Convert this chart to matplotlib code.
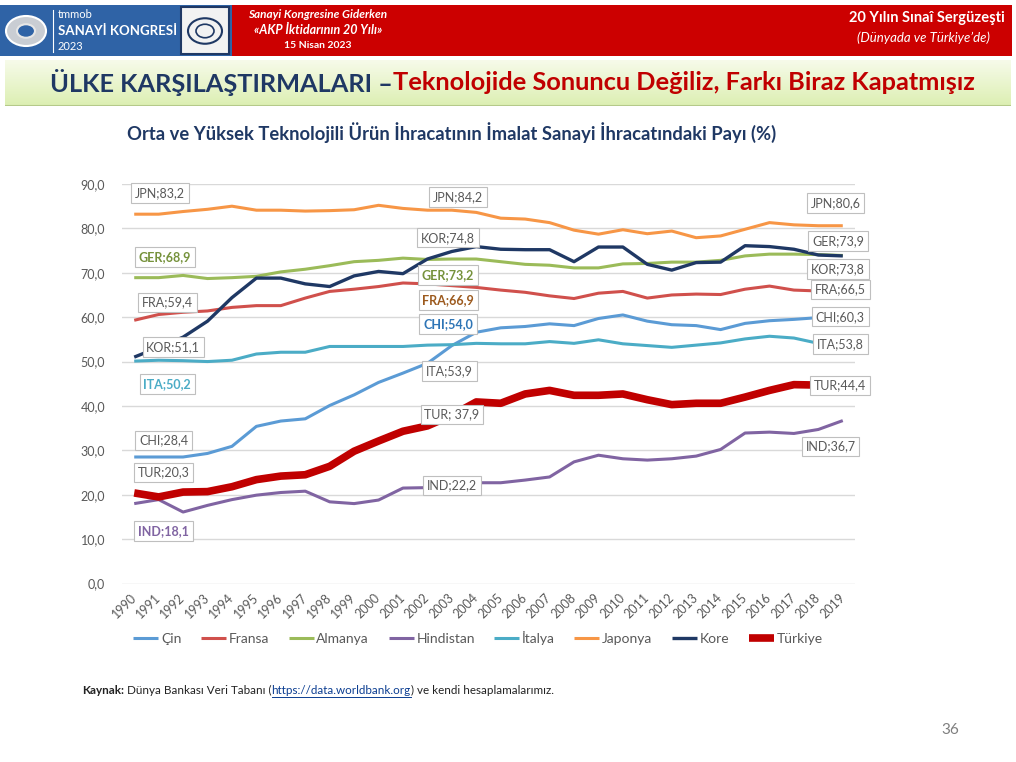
# orta ve yuksek teknolojili urun ihracati payi

import matplotlib.pyplot as plt
from matplotlib.patches import Rectangle, Circle
from matplotlib.lines import Line2D
from matplotlib.colors import LinearSegmentedColormap
import numpy as np

plt.rcParams['font.family'] = ['Lato', 'DejaVu Sans']

W, H = 1016, 762

years = [str(y) for y in range(1990, 2020)]

chn = [28.5, 28.5, 28.5, 29.3, 30.9, 35.4, 36.6, 37.1, 40.1, 42.5,
       45.3, 47.4, 49.6, 53.6, 56.6, 57.6, 57.9, 58.5, 58.1, 59.7,
       60.5, 59.1, 58.3, 58.1, 57.2, 58.6, 59.2, 59.5, 59.9, 60.3]
fra = [59.3, 60.6, 61.1, 61.4, 62.2, 62.6, 62.6, 64.3, 65.8, 66.3,
       66.9, 67.7, 67.5, 67.1, 66.7, 66.1, 65.6, 64.8, 64.2, 65.4,
       65.8, 64.3, 65.0, 65.2, 65.1, 66.3, 67.0, 66.1, 65.9, 66.0]
ger = [68.9, 68.9, 69.4, 68.7, 68.9, 69.2, 70.2, 70.8, 71.6, 72.5,
       72.8, 73.3, 73.0, 73.1, 73.1, 72.5, 71.9, 71.7, 71.1, 71.1,
       72.0, 72.1, 72.4, 72.4, 72.8, 73.8, 74.2, 74.2, 74.1, 73.9]
ind = [18.0, 18.9, 16.1, 17.6, 18.9, 19.9, 20.5, 20.8, 18.4, 18.0,
       18.8, 21.5, 21.6, 22.2, 22.7, 22.7, 23.3, 24.0, 27.4, 28.9,
       28.1, 27.8, 28.1, 28.7, 30.2, 33.9, 34.1, 33.8, 34.7, 36.7]
ita = [50.1, 50.3, 50.2, 50.0, 50.3, 51.7, 52.1, 52.1, 53.4, 53.4,
       53.4, 53.4, 53.7, 53.8, 54.1, 54.0, 54.0, 54.5, 54.1, 54.9,
       54.0, 53.6, 53.2, 53.7, 54.2, 55.1, 55.7, 55.3, 54.1, 53.8]
jpn = [83.2, 83.2, 83.8, 84.3, 85.0, 84.1, 84.1, 83.9, 84.0, 84.2,
       85.2, 84.5, 84.1, 84.1, 83.6, 82.3, 82.1, 81.3, 79.6, 78.7,
       79.7, 78.8, 79.4, 77.9, 78.3, 79.8, 81.3, 80.8, 80.6, 80.6]
kor = [51.0, 53.2, 55.5, 59.1, 64.4, 68.8, 68.8, 67.5, 66.9, 69.3,
       70.3, 69.8, 73.1, 74.8, 75.9, 75.3, 75.2, 75.2, 72.5, 75.8,
       75.8, 71.9, 70.6, 72.3, 72.4, 76.1, 75.9, 75.3, 74.0, 73.8]
tur = [20.4, 19.5, 20.6, 20.7, 21.8, 23.4, 24.2, 24.5, 26.4, 29.8,
       32.1, 34.3, 35.5, 37.9, 40.9, 40.6, 42.7, 43.5, 42.4, 42.4,
       42.7, 41.4, 40.3, 40.6, 40.6, 42.0, 43.5, 44.8, 44.7, 44.4]

names = ['Çin', 'Fransa', 'Almanya', 'Hindistan', 'İtalya', 'Japonya', 'Kore', 'Türkiye']
series = [chn, fra, ger, ind, ita, jpn, kor, tur]
colors = ['#5B9BD5', '#D0504C', '#9BBB59', '#8064A2', '#4BACC6', '#F79646', '#1F3864', '#C00000']
widths = [2.2, 2.2, 2.2, 2.2, 2.2, 2.2, 2.4, 5.5]

# data labels: text, year index, label height, colour, bold
labels = [
    ('JPN;83,2', 1.05, 88.0, '#595959', False),
    ('GER;68,9', 1.25, 73.6, '#76923C', True),
    ('FRA;59,4', 1.35, 63.3, '#595959', False),
    ('KOR;51,1', 1.6, 53.3, '#595959', False),
    ('ITA;50,2', 1.35, 44.9, '#4BACC6', True),
    ('CHI;28,4', 1.2, 32.2, '#595959', False),
    ('TUR;20,3', 1.2, 25.0, '#595959', False),
    ('IND;18,1', 1.2, 11.8, '#8064A2', True),
    ('JPN;84,2', 13.25, 87.1, '#595959', False),
    ('KOR;74,8', 12.85, 77.9, '#595959', False),
    ('GER;73,2', 12.85, 69.5, '#76923C', True),
    ('FRA;66,9', 12.85, 63.9, '#9C5A1E', True),
    ('CHI;54,0', 12.85, 58.5, '#2E75B6', True),
    ('ITA;53,9', 12.9, 47.9, '#595959', False),
    ('TUR; 37,9', 13.0, 38.1, '#595959', False),
    ('IND;22,2', 13.0, 22.1, '#595959', False),
    ('JPN;80,6', 28.7, 85.7, '#595959', False),
    ('GER;73,9', 28.8, 77.2, '#595959', False),
    ('KOR;73,8', 28.8, 70.8, '#595959', False),
    ('FRA;66,5', 28.9, 66.2, '#595959', False),
    ('CHI;60,3', 28.9, 60.1, '#595959', False),
    ('ITA;53,8', 28.9, 54.0, '#595959', False),
    ('TUR;44,4', 28.9, 44.6, '#595959', False),
    ('IND;36,7', 28.5, 30.9, '#595959', False),
]


def fx(x):
    return x / W


def fy(y):
    return 1 - y / H


fig = plt.figure(figsize=(W / 100, H / 100), dpi=100)
fig.patch.set_facecolor('white')

# header banner
fig.add_artist(Rectangle((fx(0), fy(56)), fx(232), 51 / H, transform=fig.transFigure,
                         fc='#2F63A6', ec='none'))
fig.add_artist(Rectangle((fx(232), fy(56)), fx(780), 51 / H, transform=fig.transFigure,
                         fc='#CC0000', ec='none'))
fig.add_artist(Circle((fx(26), fy(31)), 20 / W, transform=fig.transFigure,
                      fc='#C9CDD3', ec='white', lw=1.5))
fig.add_artist(Circle((fx(26), fy(31)), 9 / W, transform=fig.transFigure,
                      fc='#2F63A6', ec='#E6E6E6', lw=1.5))
fig.add_artist(Line2D([fx(53), fx(53)], [fy(10), fy(52)], transform=fig.transFigure,
                      color='white', lw=0.8))
fig.text(fx(58), fy(15), 'tmmob', color='white', fontsize=8, va='center')
fig.text(fx(58), fy(31), 'SANAYİ KONGRESİ', color='white', fontsize=9.5, fontweight='bold', va='center')
fig.text(fx(58), fy(46), '2023', color='white', fontsize=8, va='center')
fig.add_artist(Rectangle((fx(181), fy(54)), 48 / W, 47 / H, transform=fig.transFigure,
                         fc='#F2F2F2', ec='#1F3864', lw=1.5))
fig.add_artist(Circle((fx(205), fy(31)), 17 / W, transform=fig.transFigure,
                      fc='none', ec='#1F3864', lw=1.5))
fig.add_artist(Circle((fx(205), fy(31)), 9 / W, transform=fig.transFigure,
                      fc='none', ec='#1F3864', lw=1.2))

fig.text(fx(318), fy(15), 'Sanayi Kongresine Giderken', color='white', fontsize=8.5,
         fontweight='bold', fontstyle='italic', ha='center', va='center')
fig.text(fx(318), fy(30), '«AKP İktidarının 20 Yılı»', color='white', fontsize=9,
         fontweight='bold', fontstyle='italic', ha='center', va='center')
fig.text(fx(318), fy(46), '15 Nisan 2023', color='white', fontsize=7.5,
         fontweight='bold', ha='center', va='center')
fig.text(fx(1005), fy(18), '20 Yılın Sınaî Sergüzeşti', color='white', fontsize=10.5,
         fontweight='bold', ha='right', va='center')
fig.text(fx(990), fy(38), '(Dünyada ve Türkiye’de)', color='white', fontsize=9.5,
         fontstyle='italic', ha='right', va='center')

# title band
grad = np.linspace(0, 1, 100).reshape(-1, 1)
band = fig.add_axes([fx(5), fy(106), 1006 / W, 46 / H])
band.imshow(grad, aspect='auto', cmap=LinearSegmentedColormap.from_list(
    'g', ['#F7FBEA', '#DCEFB2']), extent=(0, 1, 0, 1))
band.set_axis_off()
band.add_line(Line2D([0, 1], [0.01, 0.01], color='#B5C98A', lw=1.5))
t1 = band.text(0.045, 0.5, 'ÜLKE KARŞILAŞTIRMALARI –', color='#1F3864', fontsize=18.3,
               fontweight='bold', va='center', transform=band.transAxes)
band.annotate('Teknolojide Sonuncu Değiliz, Farkı Biraz Kapatmışız', xy=(1, 0.5),
              xycoords=t1, va='center', color='#C00000', fontsize=18.3, fontweight='bold')

# chart
ax = fig.add_axes([fx(122), fy(583.5), 733 / W, 399.5 / H])
x = np.arange(len(years))
for name, vals, c, lw in zip(names, series, colors, widths):
    ax.plot(x, vals, color=c, lw=lw, label=name, solid_capstyle='butt', zorder=3)

for txt, xi, yv, c, b in labels:
    ax.text(xi, yv, txt, ha='center', va='center', color=c, fontsize=9,
            fontweight='bold' if b else 'normal', zorder=6,
            bbox=dict(boxstyle='square,pad=0.3', fc='white', ec='#BFBFBF', lw=0.8))

ax.set_xlim(-0.5, len(years) - 0.5)
ax.set_ylim(0, 90)
ax.set_yticks(np.arange(0, 91, 10))
ax.set_yticklabels([f'{v:.1f}'.replace('.', ',') for v in range(0, 91, 10)])
ax.set_xticks(x)
ax.set_xticklabels(years, rotation=45, ha='right', va='center', rotation_mode='anchor')
ax.tick_params(length=0, labelsize=9, labelcolor='#595959')
ax.tick_params(axis='x', pad=9)
ax.tick_params(axis='y', pad=12)
ax.grid(axis='y', color='#D9D9D9', lw=1)
ax.set_axisbelow(True)
for s in ax.spines.values():
    s.set_visible(False)

fig.text(fx(452), fy(133), 'Orta ve Yüksek Teknolojili Ürün İhracatının İmalat Sanayi İhracatındaki Payı (%)',
         color='#1F3864', fontsize=13.2, fontweight='bold', ha='center', va='center')

fig.legend(loc='center', bbox_to_anchor=(fx(478), fy(638)), ncol=8, frameon=False,
           handlelength=1.8, handletextpad=0.2, columnspacing=1.4,
           prop={'size': 10}, labelcolor='#595959')

# source note
k = fig.text(fx(82), fy(690), 'Kaynak:', fontsize=8.4, fontweight='bold', color='#222222', va='center')
a1 = fig.text(0, 0, ' Dünya Bankası Veri Tabanı (', fontsize=8.4, color='#222222', va='center')
fig.canvas.draw()
r = fig.canvas.get_renderer()


def place_after(prev, t):
    bb = prev.get_window_extent(r)
    t.set_position((bb.x1 / W, fy(690)))
    fig.canvas.draw()
    return t


place_after(k, a1)
link = place_after(a1, fig.text(0, 0, 'https://data.worldbank.org', fontsize=8.4,
                                color='#0B3D91', va='center'))
lb = link.get_window_extent(r)
fig.add_artist(Line2D([lb.x0 / W, lb.x1 / W], [fy(697), fy(697)], transform=fig.transFigure,
                      color='#0B3D91', lw=0.7))
place_after(link, fig.text(0, 0, ') ve kendi hesaplamalarımız.', fontsize=8.4,
                           color='#222222', va='center'))

fig.text(fx(950), fy(730), '36', fontsize=11, color='#7F7F7F', ha='center', va='center')

fig.savefig('out.png', dpi=100)
